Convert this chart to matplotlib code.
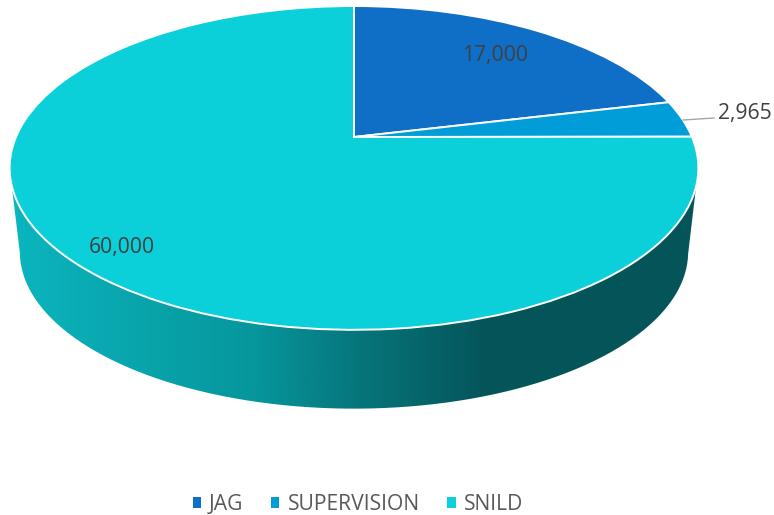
import matplotlib
matplotlib.use("Agg")
import matplotlib.pyplot as plt
import numpy as np
from matplotlib.colors import LinearSegmentedColormap
from matplotlib.patches import Patch, PathPatch
from matplotlib.path import Path
from matplotlib.transforms import Transform

plt.rcParams['font.family'] = ['Open Sans', 'DejaVu Sans']

categories = ["JAG", "SUPERVISION", "SNILD"]
values = [17000, 2965, 60000]
colors = ["#0f6fc6", "#009dd9", "#0bd0d9"]


# Tilted disc: unit circle to pixel position with a bit of perspective
class Tilt(Transform):
    input_dims = 2
    output_dims = 2

    def __init__(self, cx, cy, a, b, k):
        super().__init__()
        self.cx, self.cy, self.a, self.b, self.k = cx, cy, a, b, k

    def transform_non_affine(self, pts):
        pts = np.asarray(pts, dtype=float)
        w = 1 + self.k * pts[:, 1]
        return np.column_stack([self.cx + self.a * pts[:, 0] / w,
                                self.cy - self.b * pts[:, 1] / w])


top = Tilt(354, 137, 338, 156, 0.191)
bottom = Tilt(354, 222, 328, 151, 0.191)

fig = plt.figure(figsize=(7.74, 5.15), dpi=100)
ax = fig.add_axes([0, 0, 1, 1])

wedges, _ = ax.pie(values, colors=colors, startangle=90, counterclock=False,
                   wedgeprops={'edgecolor': 'white', 'linewidth': 1.4})
for w in wedges:
    w.set_transform(top + ax.transData)
    w.set_zorder(3)

ax.set_aspect('auto')
ax.set_xlim(0, 774)
ax.set_ylim(515, 0)
ax.axis('off')

# Side wall with the dark shading to the right
t = np.linspace(0, 2 * np.pi, 400)
circle = np.column_stack([np.cos(t), np.sin(t)])
upper = top.transform(circle)
lower = bottom.transform(circle)
mid_y = upper[:, 0].argmax(), upper[:, 0].argmin()
lower_half = lower[lower[:, 1] > 252]
lower_half = lower_half[np.argsort(lower_half[:, 0])]
wall = np.vstack([[upper[mid_y[1]]], lower_half, [upper[mid_y[0]]]])
wall_path = Path(wall)

shade = LinearSegmentedColormap.from_list("wall", [
    (0.0, "#0bb6bf"), (0.12, "#0aaab2"), (0.35, "#06979d"),
    (0.50, "#06777d"), (0.69, "#04555a"), (1.0, "#04555a")])
img = ax.imshow(np.linspace(0, 1, 256)[None, :], cmap=shade, aspect='auto',
                extent=(11, 698, 415, 160), zorder=1)
img.set_clip_path(PathPatch(wall_path, transform=ax.transData))
ax.set_xlim(0, 774)
ax.set_ylim(515, 0)

# Value labels
ax.text(495, 56, f"{values[0]:,}", ha='center', va='center', fontsize=15.2, color='#404040', zorder=4)
ax.plot([683, 714], [120, 118], color='#a6a6a6', lw=1, zorder=4)
ax.text(718, 114, f"{values[1]:,}", ha='left', va='center', fontsize=15.2, color='#404040', zorder=4)
ax.text(122, 248, f"{values[2]:,}", ha='center', va='center', fontsize=15.2, color='#404040', zorder=4)

handles = [Patch(facecolor=c, edgecolor='none', label=n) for c, n in zip(colors, categories)]
ax.legend(handles=handles, loc='center', bbox_to_anchor=(0.4625, 0.02), ncol=3, frameon=False,
          fontsize=15.2, labelcolor='#595959', handlelength=0.38, handleheight=0.38,
          handletextpad=0.38, columnspacing=1.32, borderpad=0)

fig.savefig("out.png", dpi=100)
